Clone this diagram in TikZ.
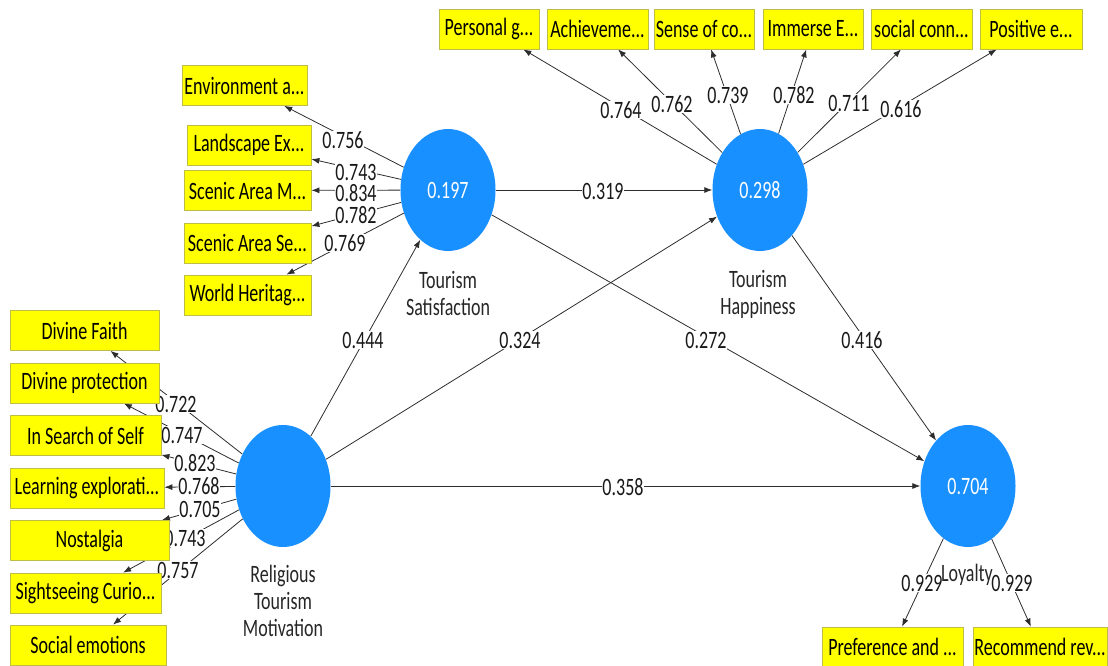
\documentclass[tikz,border=0pt]{standalone}
\usepackage{fontspec}
\setmainfont{Carlito}[FakeStretch=0.72]
\usetikzlibrary{shapes.geometric,arrows.meta}
\pgfdeclarelayer{bg}
\pgfsetlayers{bg,main}
\definecolor{lvblue}{RGB}{24,144,255}
\definecolor{indyellow}{RGB}{255,255,0}
\definecolor{indborder}{RGB}{190,190,70}
\definecolor{linecol}{RGB}{45,45,45}
\begin{document}
\begin{tikzpicture}[x=1pt,y=-1pt,
  lv/.style={ellipse, fill=lvblue, minimum width=95pt, minimum height=122pt, inner sep=0pt, text=white, font=\fontsize{25}{28}\selectfont},
  ind/.style={draw=indborder, line width=0.8pt, fill=indyellow, minimum height=40pt, inner sep=1pt, font=\fontsize{25}{28}\selectfont, text=black},
  lvname/.style={align=center, font=\fontsize{25}{27}\selectfont, text=black!85},
  coef/.style={fill=white, inner sep=0.6pt, font=\fontsize{25}{28}\selectfont, text=black!90},
  conn/.style={draw=linecol, line width=0.8pt, -{Latex[length=8pt,width=6pt]}},
]
\useasboundingbox (0,0) rectangle (1108,666);

% latent variables
\node[lv] (sat) at (448,190) {0.197};
\node[lv] (hap) at (760,190) {0.298};
\node[lv] (mot) at (283,486) {};
\node[lv] (loy) at (968,486) {0.704};

\node[lvname] (satname) at (448,293) {Tourism\\Satisfaction};
\node[lvname] (hapname) at (758,294) {Tourism\\Happiness};
\node[lvname] (motname) at (283,601) {Religious\\Tourism\\Motivation};

% happiness indicators
\node[ind, minimum width=100pt] (h1) at (489,29) {Personal g...};
\node[ind, minimum width=101pt] (h2) at (597.5,29) {Achieveme...};
\node[ind, minimum width=100pt] (h3) at (704,29) {Sense of co...};
\node[ind, minimum width=100pt] (h4) at (813,29) {Immerse E...};
\node[ind, minimum width=101pt] (h5) at (921.5,29) {social conn...};
\node[ind, minimum width=102pt] (h6) at (1031,29) {Positive e...};

% satisfaction indicators
\node[ind, minimum width=125pt] (s1) at (244.5,85.5) {Environment a...};
\node[ind, minimum width=124pt] (s2) at (249,145) {Landscape Ex...};
\node[ind, minimum width=127pt] (s3) at (247.5,190.5) {Scenic Area M...};
\node[ind, minimum width=127pt] (s4) at (247.5,243) {Scenic Area Se...};
\node[ind, minimum width=127pt] (s5) at (247.5,295) {World Heritag...};

% motivation indicators
\node[ind, minimum width=149pt] (m1) at (84.5,330.5) {Divine Faith};
\node[ind, minimum width=149pt] (m2) at (84.5,383) {Divine protection};
\node[ind, minimum width=151pt] (m3) at (85.5,435.5) {In Search of Self};
\node[ind, minimum width=154pt] (m4) at (87,488) {Learning explorati...};
\node[ind, minimum width=159pt] (m5) at (89.5,540.5) {Nostalgia};
\node[ind, minimum width=151pt] (m6) at (85.5,593) {Sightseeing Curio...};
\node[ind, minimum width=156pt] (m7) at (88,645) {Social emotions};

% loyalty indicators
\node[ind, minimum width=141pt] (l1) at (892.5,647) {Preference and ...};
\node[ind, minimum width=134pt] (l2) at (1040,647) {Recommend rev...};

\begin{pgfonlayer}{bg}
% outer model
\foreach \t in {h1,h2,h3,h4,h5,h6} \draw[conn] (hap) -- (\t);
\foreach \t in {s1,s2,s3,s4,s5} \draw[conn] (sat) -- (\t);
\foreach \t in {m1,m2,m3,m4,m5,m6,m7} \draw[conn] (mot) -- (\t);
\foreach \t in {l1,l2} \draw[conn] (loy) -- (\t);
% inner model
\draw[conn] (sat) -- (hap);
\draw[conn] (sat) -- (loy);
\draw[conn] (mot) -- (sat);
\draw[conn] (mot) -- (hap);
\draw[conn] (hap) -- (loy);
\draw[conn] (mot) -- (loy);

% coefficients
\node[coef] (c319) at (603,191) {0.319};
\node[coef] (c444) at (363,340) {0.444};
\node[coef] (c324) at (520,340) {0.324};
\node[coef] (c272) at (706,340) {0.272};
\node[coef] (c416) at (862,340) {0.416};
\node[coef] (c358) at (623,487) {0.358};

\node[coef] (ch1) at (621,110) {0.764};
\node[coef] (ch2) at (672,104) {0.762};
\node[coef] (ch3) at (728,95) {0.739};
\node[coef] (ch4) at (794,95) {0.782};
\node[coef] (ch5) at (849,103) {0.711};
\node[coef] (ch6) at (901,109) {0.616};

\node[coef] (cs5) at (345,243) {0.769};
\node[coef] (cs4) at (356,215) {0.782};
\node[coef] (cs3) at (356,193) {0.834};
\node[coef] (cs2) at (356,172) {0.743};
\node[coef] (cs1) at (343,140) {0.756};

\node[coef] (cm7) at (178,570) {0.757};
\node[coef] (cm6) at (185,538) {0.743};
\node[coef] (cm5) at (200,509) {0.705};
\node[coef] (cm3) at (195,463) {0.823};
\node[coef] (cm4) at (199,486) {0.768};
\node[coef] (cm2) at (182,435) {0.747};
\node[coef] (cm1) at (176,404) {0.722};

\node[coef] (cl1) at (922,583) {0.929};
\node[coef] (cl2) at (1012,583) {0.929};
\end{pgfonlayer}
\node[lvname] (loyname) at (967,575) {Loyalty};
\end{tikzpicture}
\end{document}
